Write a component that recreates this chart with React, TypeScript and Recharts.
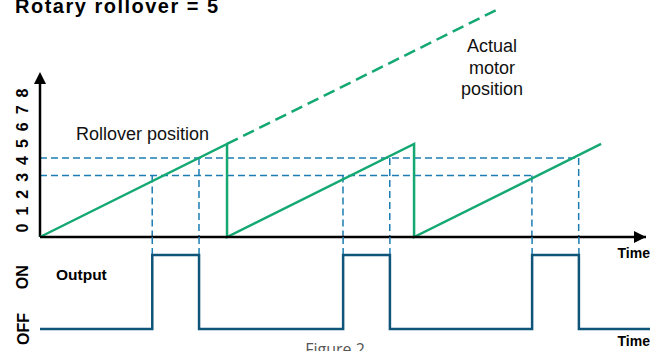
import { LineChart, Line, XAxis, YAxis, ReferenceLine, ReferenceDot, Label } from "recharts";

// time axis: motor moves 1 position per time unit
const ROLLOVER_TIMES = [0, 5, 5, 10, 10, 15];
const ROLLOVER_POSITIONS = [0, 5, 0, 5, 0, 5];
const ACTUAL_TIMES = [5, 12.2];
const ACTUAL_POSITIONS = [5, 12.2];

const ON_LEVEL = 3.3;
const OFF_LEVEL = 4.25;
const ON_TIMES = [3.0, 8.1, 13.15];
const OFF_TIMES = [4.25, 9.35, 14.4];
const OUTPUT_END = 16.3;

const POSITION_TICKS = [0, 1, 2, 3, 4, 5, 6, 7, 8];
const OUTPUT_TICKS = [0, 0.7];
const OUTPUT_TICK_LABELS = ["OFF", "ON"];

const GREEN = "#14a872";
const BLUE = "#1c7db3";
const DARK = "#0f5479";
const FONT = "'Liberation Sans', Arial, sans-serif";

const rolloverData = ROLLOVER_TIMES.map((t, i) => ({ t, p: ROLLOVER_POSITIONS[i] }));
const actualData = ACTUAL_TIMES.map((t, i) => ({ t, p: ACTUAL_POSITIONS[i] }));

const outputData = [{ t: 0, s: 0 }];
ON_TIMES.forEach((on, i) => {
  outputData.push({ t: on, s: 1 });
  outputData.push({ t: OFF_TIMES[i], s: 0 });
});
outputData.push({ t: OUTPUT_END, s: 0 });

const UpArrow = (props: any) => {
  const { cx, cy } = props;
  return <polygon points={`${cx},${cy} ${cx - 6},${cy + 12} ${cx + 6},${cy + 12}`} fill="#000" />;
};

const RightArrow = (props: any) => {
  const { cx, cy } = props;
  return <polygon points={`${cx},${cy} ${cx - 12},${cy - 6} ${cx - 12},${cy + 6}`} fill="#000" />;
};

const RotatedTick = (props: any) => {
  const { x, y, payload, labels, ticks } = props;
  const text = labels ? labels[ticks.indexOf(payload.value)] : String(payload.value);
  return (
    <text
      x={x}
      y={y}
      transform={`rotate(-90, ${x}, ${y})`}
      textAnchor="middle"
      dominantBaseline="central"
      fontFamily={FONT}
      fontWeight="bold"
      fontSize={16}
      fill="#000"
    >
      {text}
    </text>
  );
};

const timeLabel = (props: any) => {
  const { viewBox } = props;
  return (
    <text
      x={viewBox.x + viewBox.width + 4}
      y={viewBox.y + 21}
      textAnchor="end"
      fontFamily={FONT}
      fontWeight="bold"
      fontSize={14}
      fill="#000"
    >
      Time
    </text>
  );
};

export default function App() {
  return (
    <div style={{ position: "fixed", left: 0, top: 0, width: 659, height: 351, background: "#fff", overflow: "hidden" }}>
      <div style={{ position: "absolute", left: 0, top: 0 }}>
        <LineChart width={659} height={351} data={rolloverData} margin={{ top: 10, right: 13, bottom: 93, left: 0 }}>
          <XAxis
            type="number"
            dataKey="t"
            domain={[0, 16.2]}
            tick={false}
            tickLine={false}
            axisLine={{ stroke: "#000", strokeWidth: 2.5 }}
            height={21}
          >
            <Label content={timeLabel} />
          </XAxis>
          <YAxis yAxisId="pos" type="number" domain={[0, 12.2]} hide />
          <YAxis
            yAxisId="lbl"
            type="number"
            domain={[-0.533, 12.92]}
            allowDataOverflow
            ticks={POSITION_TICKS}
            interval={0}
            width={40}
            axisLine={false}
            tickLine={false}
            tickSize={0}
            tickMargin={17}
            tick={(p: any) => <RotatedTick {...p} />}
          />
          <ReferenceLine
            yAxisId="pos"
            segment={[{ x: 0, y: OFF_LEVEL }, { x: OFF_TIMES[2], y: OFF_LEVEL }]}
            stroke={BLUE}
            strokeWidth={1.5}
            strokeDasharray="7 4"
          />
          <ReferenceLine
            yAxisId="pos"
            segment={[{ x: 0, y: ON_LEVEL }, { x: ON_TIMES[2], y: ON_LEVEL }]}
            stroke={BLUE}
            strokeWidth={1.5}
            strokeDasharray="7 4"
          />
          {ON_TIMES.map((t) => (
            <ReferenceLine
              key={"on" + t}
              yAxisId="pos"
              segment={[{ x: t, y: ON_LEVEL }, { x: t, y: 0 }]}
              stroke={BLUE}
              strokeWidth={1.5}
              strokeDasharray="7 4"
            />
          ))}
          {OFF_TIMES.map((t) => (
            <ReferenceLine
              key={"off" + t}
              yAxisId="pos"
              segment={[{ x: t, y: OFF_LEVEL }, { x: t, y: 0 }]}
              stroke={BLUE}
              strokeWidth={1.5}
              strokeDasharray="7 4"
            />
          ))}
          <ReferenceLine
            yAxisId="pos"
            segment={[{ x: 0, y: 0 }, { x: 0, y: 8.4 }]}
            stroke="#000"
            strokeWidth={2.5}
          />
          <ReferenceDot yAxisId="pos" x={0} y={8.87} r={6} shape={UpArrow} />
          <ReferenceDot yAxisId="pos" x={16.2} y={0} r={6} shape={RightArrow} />
          <Line
            yAxisId="pos"
            dataKey="p"
            type="linear"
            stroke={GREEN}
            strokeWidth={2.5}
            dot={false}
            isAnimationActive={false}
          />
          <Line
            yAxisId="pos"
            data={actualData}
            dataKey="p"
            type="linear"
            stroke={GREEN}
            strokeWidth={2.5}
            strokeDasharray="12 6"
            dot={false}
            isAnimationActive={false}
          />
        </LineChart>
      </div>
      <div style={{ position: "absolute", left: 0, top: 0 }}>
        <LineChart width={659} height={351} data={outputData} margin={{ top: 236.5, right: 9, bottom: 6, left: 0 }}>
          <XAxis type="number" dataKey="t" domain={[0, OUTPUT_END]} tick={false} tickLine={false} axisLine={false} height={16}>
            <Label content={(p: any) => timeLabel({ viewBox: { ...p.viewBox, y: p.viewBox.y - 4.5, width: p.viewBox.width - 4 } })} />
          </XAxis>
          <YAxis
            type="number"
            domain={[0, 1.25]}
            ticks={OUTPUT_TICKS}
            width={40}
            axisLine={false}
            tickLine={false}
            tickSize={0}
            tickMargin={17}
            tick={(p: any) => <RotatedTick {...p} labels={OUTPUT_TICK_LABELS} ticks={OUTPUT_TICKS} />}
          />
          {[...ON_TIMES, ...OFF_TIMES].map((t) => (
            <ReferenceLine
              key={"v" + t}
              segment={[{ x: t, y: 1 }, { x: t, y: 1.25 }]}
              stroke={BLUE}
              strokeWidth={1.5}
              strokeDasharray="7 4"
            />
          ))}
          <Line
            dataKey="s"
            type="stepAfter"
            stroke={DARK}
            strokeWidth={2.5}
            dot={false}
            isAnimationActive={false}
          />
        </LineChart>
      </div>
      <svg width={659} height={351} style={{ position: "absolute", left: 0, top: 0, pointerEvents: "none" }}>
        <text x={15} y={12.7} fontFamily={FONT} fontWeight="bold" fontSize={20} letterSpacing={1.5} fill="#000">
          Rotary rollover = 5
        </text>
        <text x={76} y={140} fontFamily={FONT} fontSize={18} fill="#111">
          Rollover position
        </text>
        <text textAnchor="middle" fontFamily={FONT} fontSize={18} fill="#111">
          <tspan x={492} y={52}>Actual</tspan>
          <tspan x={492} y={74}>motor</tspan>
          <tspan x={492} y={95}>position</tspan>
        </text>
        <text x={56} y={279.5} fontFamily={FONT} fontWeight="bold" fontSize={15.5} fill="#000">
          Output
        </text>
        <text x={335} y={355} textAnchor="middle" fontFamily="'Open Sans', sans-serif" fontSize={16} fill="#555">
          Figure 2
        </text>
      </svg>
    </div>
  );
}
